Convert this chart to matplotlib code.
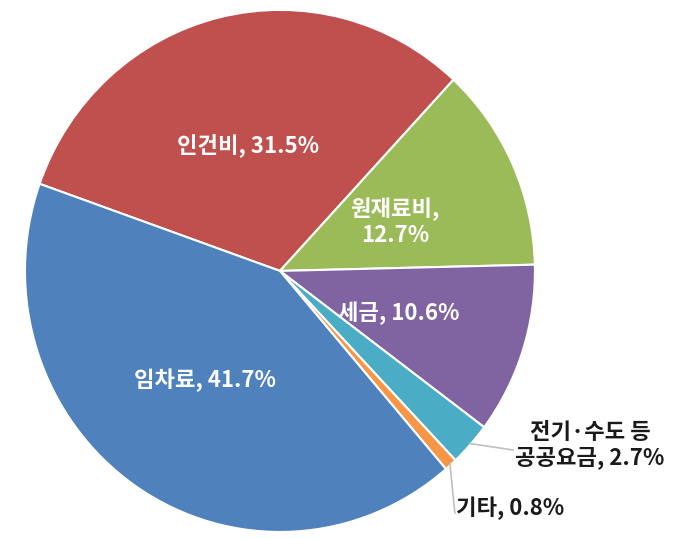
import matplotlib
matplotlib.use("Agg")
import matplotlib.pyplot as plt
import numpy as np

plt.rcParams['font.family'] = ['Noto Sans CJK KR', 'DejaVu Sans']

# data, clockwise from the left edge of the red slice
labels = ['인건비', '원재료비', '세금', '전기·수도 등\n공공요금', '기타', '임차료']
values = [31.5, 12.7, 10.6, 2.7, 0.8, 41.7]
colors = ['#C0504D', '#9BBB59', '#8064A2', '#4BACC6', '#F79646', '#4F81BD']

fig = plt.figure(figsize=(6.8, 5.39), dpi=100)
ax = fig.add_axes([0, 0, 1, 1])

wedges, _ = ax.pie(values, colors=colors, startangle=160.5, counterclock=False,
                   radius=1.0, wedgeprops=dict(edgecolor='white', linewidth=1.5))

# inside labels (white)
inside = {
    0: (-0.125, 0.483, '인건비, 31.5%'),
    1: (0.451, 0.188, '원재료비,\n12.7%'),
    2: (0.465, -0.161, '세금, 10.6%'),
    5: (-0.294, -0.418, '임차료, 41.7%'),
}
for i, (x, y, txt) in inside.items():
    ax.text(x, y, txt, ha='center', va='center', color='white',
            fontsize=16, fontweight='bold', linespacing=1.15)

# outside labels with leader lines
def edge_point(w):
    ang = np.deg2rad((w.theta1 + w.theta2) / 2)
    return np.cos(ang) * 0.995, np.sin(ang) * 0.995

x0, y0 = edge_point(wedges[3])
ax.plot([x0, 0.914], [y0, -0.686], color='#BFBFBF', lw=1.2)
ax.text(1.216, -0.667, labels[3] + ', %.1f%%' % values[3], ha='center', va='center',
        color='#1a1a1a', fontsize=16, fontweight='bold', linespacing=1.15)

x1, y1 = edge_point(wedges[4])
ax.plot([x1, 0.686], [y1, -0.927], color='#BFBFBF', lw=1.2)
ax.text(0.690, -0.908, labels[4] + ', %.1f%%' % values[4], ha='left', va='center',
        color='#1a1a1a', fontsize=16, fontweight='bold')

ax.set_xlim(-1.098, 1.569)
ax.set_ylim(-1.027, 1.038)
ax.set_aspect('auto')
ax.axis('off')

fig.savefig('out.png', dpi=100, facecolor='white')
